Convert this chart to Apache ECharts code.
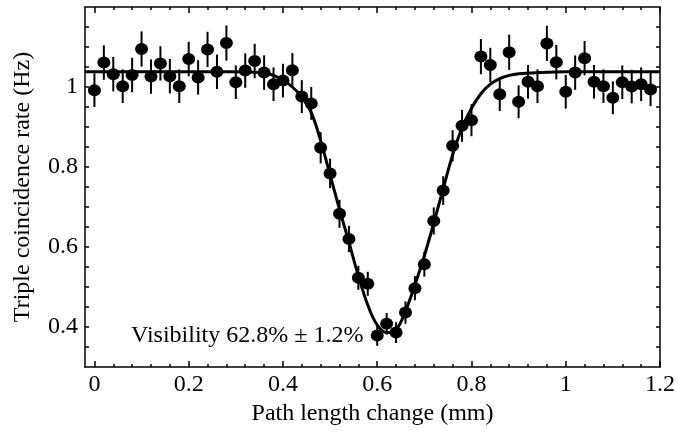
<!DOCTYPE html>
<html>
<head>
<meta charset="utf-8">
<script src="https://cdn.jsdelivr.net/npm/echarts@6/dist/echarts.min.js"></script>
<style>
  html, body { margin: 0; padding: 0; background: #fff; }
  #chart { width: 678px; height: 435px; }
</style>
</head>
<body>
<div id="chart"></div>
<script>
// ---- data ----
const pathX = [0.00, 0.02, 0.04, 0.06, 0.08, 0.10, 0.12, 0.14, 0.16, 0.18,
               0.20, 0.22, 0.24, 0.26, 0.28, 0.30, 0.32, 0.34, 0.36, 0.38,
               0.40, 0.42, 0.44, 0.46, 0.48, 0.50, 0.52, 0.54, 0.56, 0.58,
               0.60, 0.62, 0.64, 0.66, 0.68, 0.70, 0.72, 0.74, 0.76, 0.78,
               0.80, 0.82, 0.84, 0.86, 0.88, 0.90, 0.92, 0.94, 0.96, 0.98,
               1.00, 1.02, 1.04, 1.06, 1.08, 1.10, 1.12, 1.14, 1.16, 1.18];
const rate = [0.992, 1.061, 1.032, 1.002, 1.030, 1.095, 1.026, 1.059, 1.027, 1.002,
              1.070, 1.024, 1.094, 1.038, 1.110, 1.012, 1.041, 1.065, 1.036, 1.007,
              1.016, 1.042, 0.976, 0.959, 0.848, 0.784, 0.683, 0.620, 0.523, 0.508,
              0.379, 0.408, 0.386, 0.436, 0.497, 0.557, 0.665, 0.741, 0.853, 0.903,
              0.917, 1.076, 1.055, 0.982, 1.087, 0.963, 1.013, 1.002, 1.109, 1.062,
              0.988, 1.036, 1.072, 1.013, 1.002, 0.973, 1.012, 1.001, 1.007, 0.994];
const rateErr = [0.042, 0.043, 0.043, 0.042, 0.043, 0.044, 0.043, 0.043, 0.043, 0.042,
                 0.043, 0.043, 0.044, 0.043, 0.044, 0.042, 0.043, 0.043, 0.043, 0.042,
                 0.042, 0.043, 0.041, 0.041, 0.039, 0.037, 0.035, 0.033, 0.030, 0.030,
                 0.026, 0.027, 0.026, 0.028, 0.030, 0.031, 0.034, 0.036, 0.039, 0.040,
                 0.040, 0.044, 0.043, 0.042, 0.044, 0.041, 0.042, 0.042, 0.044, 0.043,
                 0.042, 0.043, 0.043, 0.042, 0.042, 0.041, 0.042, 0.042, 0.042, 0.042];
// fitted curve
const fitX = [-0.02, 0.30, 0.34, 0.36, 0.38, 0.40, 0.42, 0.44, 0.46, 0.48,
              0.50, 0.52, 0.54, 0.56, 0.58, 0.60, 0.62, 0.64, 0.66, 0.68,
              0.70, 0.72, 0.74, 0.76, 0.78, 0.80, 0.82, 0.84, 0.86, 0.88,
              0.90, 0.94, 1.00, 1.20];
const fitY = [1.038, 1.038, 1.037, 1.035, 1.029, 1.017, 1.000, 0.975, 0.936, 0.866,
              0.780, 0.694, 0.612, 0.528, 0.455, 0.405, 0.386, 0.393, 0.440, 0.505,
              0.578, 0.660, 0.746, 0.830, 0.898, 0.947, 0.983, 1.007, 1.021, 1.029,
              1.033, 1.036, 1.038, 1.038];
// tick values
const xMajorTicks = [0, 0.2, 0.4, 0.6, 0.8, 1.0, 1.2];
const xMinorTicks = [0.04, 0.08, 0.12, 0.16, 0.24, 0.28, 0.32, 0.36, 0.44, 0.48, 0.52, 0.56,
                     0.64, 0.68, 0.72, 0.76, 0.84, 0.88, 0.92, 0.96, 1.04, 1.08, 1.12, 1.16];
const yLabelTicks = [0.4, 0.6, 0.8, 1.0];
const yTicks = [0.35, 0.4, 0.45, 0.5, 0.55, 0.6, 0.65, 0.7, 0.75, 0.8, 0.85, 0.9, 0.95, 1.0, 1.05, 1.1, 1.15];
const xTitle = 'Path length change (mm)';
const yTitle = 'Triple coincidence rate (Hz)';
const note = 'Visibility 62.8% \u00b1 1.2%';

// ---- build chart ----
const FONT = '"Liberation Serif", "Times New Roman", serif';
const lineStyle = { color: '#000', width: 1.5 };
function fmt(v) { return String(Math.round(v * 100) / 100); }

const xBase = { type: 'value', min: -0.02, max: 1.2, gridIndex: 0, splitLine: { show: false } };
const yBase = { type: 'value', min: 0.3, max: 1.2, gridIndex: 0, splitLine: { show: false } };

const chart = echarts.init(document.getElementById('chart'), null, { renderer: 'canvas' });
chart.setOption({
  backgroundColor: '#fff',
  animation: false,
  grid: { left: 85, right: 10, top: 7, bottom: 68, containLabel: false },
  xAxis: [
    Object.assign({}, xBase, {
      position: 'bottom',
      axisLine: { show: true, onZero: false, lineStyle: lineStyle },
      axisTick: { show: true, inside: true, length: 6, customValues: xMajorTicks, lineStyle: lineStyle },
      axisLabel: { show: true, customValues: xMajorTicks, formatter: fmt, margin: 6,
                   color: '#000', fontFamily: FONT, fontSize: 24, showMaxLabel: true, showMinLabel: true },
      name: xTitle, nameLocation: 'middle', nameGap: 34,
      nameTextStyle: { color: '#000', fontFamily: FONT, fontSize: 24 }
    }),
    Object.assign({}, xBase, {
      position: 'bottom',
      axisLine: { show: false, onZero: false },
      axisTick: { show: true, inside: true, length: 3, customValues: xMinorTicks, lineStyle: lineStyle },
      axisLabel: { show: false }
    }),
    Object.assign({}, xBase, {
      position: 'top',
      axisLine: { show: true, onZero: false, lineStyle: lineStyle },
      axisTick: { show: true, inside: true, length: 6, customValues: xMajorTicks, lineStyle: lineStyle },
      axisLabel: { show: false }
    }),
    Object.assign({}, xBase, {
      position: 'top',
      axisLine: { show: false, onZero: false },
      axisTick: { show: true, inside: true, length: 3, customValues: xMinorTicks, lineStyle: lineStyle },
      axisLabel: { show: false }
    })
  ],
  yAxis: [
    Object.assign({}, yBase, {
      position: 'left',
      axisLine: { show: true, onZero: false, lineStyle: lineStyle },
      axisTick: { show: true, inside: true, length: 4, customValues: yTicks, lineStyle: lineStyle },
      axisLabel: { show: true, customValues: yLabelTicks, formatter: fmt, margin: 7,
                   color: '#000', fontFamily: FONT, fontSize: 24 },
      name: yTitle, nameLocation: 'middle', nameGap: 50, nameRotate: 90,
      nameTextStyle: { color: '#000', fontFamily: FONT, fontSize: 24 }
    }),
    Object.assign({}, yBase, {
      position: 'right',
      axisLine: { show: true, onZero: false, lineStyle: lineStyle },
      axisTick: { show: true, inside: true, length: 4, customValues: yTicks, lineStyle: lineStyle },
      axisLabel: { show: false }
    })
  ],
  graphic: [{
    type: 'text', x: 131, y: 336, z: 100,
    style: { text: note, font: '24px ' + FONT, fill: '#000', verticalAlign: 'middle', align: 'left' }
  }],
  series: [
    {
      type: 'line', xAxisIndex: 0, yAxisIndex: 0, z: 2,
      data: fitX.map((x, i) => [x, fitY[i]]),
      showSymbol: false, smooth: 0.4,
      lineStyle: { color: '#000', width: 3 },
      silent: true
    },
    {
      type: 'custom', xAxisIndex: 0, yAxisIndex: 0, z: 3,
      data: pathX.map((x, i) => [x, rate[i], rateErr[i]]),
      encode: { x: 0, y: 1 },
      renderItem: function (params, api) {
        const x = api.value(0), y = api.value(1), e = api.value(2);
        const p1 = api.coord([x, y - e]);
        const p2 = api.coord([x, y + e]);
        return { type: 'line', shape: { x1: p1[0], y1: p1[1], x2: p2[0], y2: p2[1] },
                 style: { stroke: '#000', lineWidth: 2 } };
      },
      silent: true
    },
    {
      type: 'scatter', xAxisIndex: 0, yAxisIndex: 0, z: 4,
      data: pathX.map((x, i) => [x, rate[i]]),
      symbol: 'circle', symbolSize: [13, 12],
      itemStyle: { color: '#000', opacity: 1 },
      silent: true
    }
  ]
});
</script>
</body>
</html>
